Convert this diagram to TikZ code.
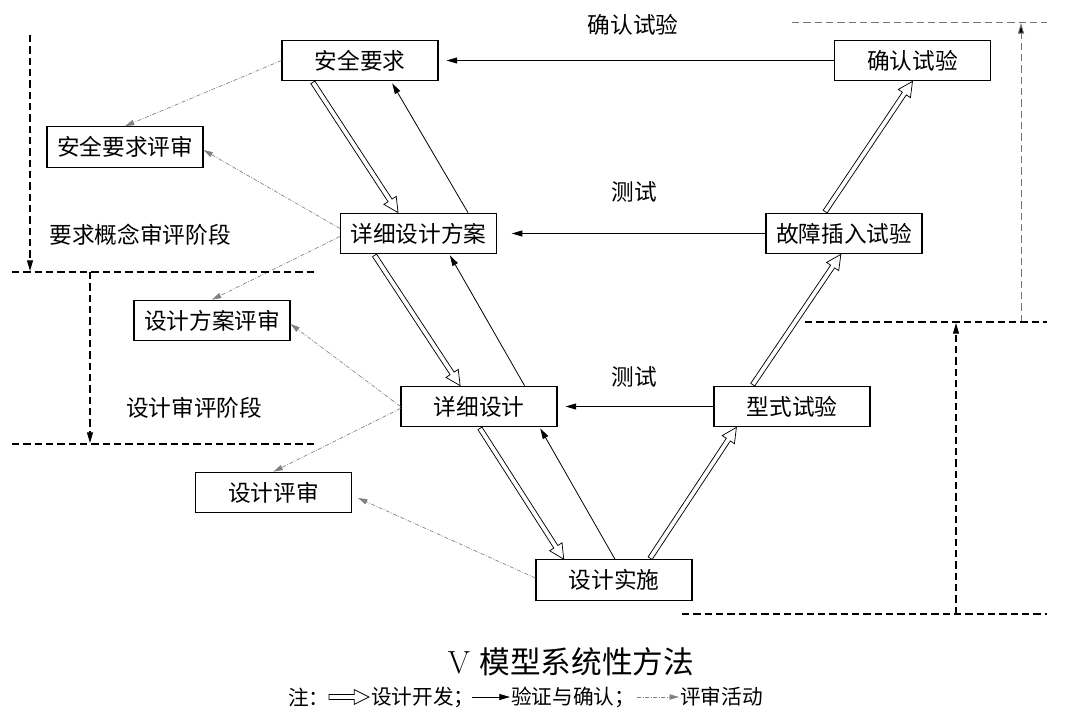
\documentclass[tikz,border=0pt]{standalone}
\usepackage{fontspec}
\newfontfamily\cjk{Noto Sans CJK SC}
\usetikzlibrary{arrows.meta,calc}
\tikzset{
  box/.style={draw, line width=0.8pt, minimum width=117pt, minimum height=30.5pt, inner sep=0pt, font=\cjk\fontsize{17pt}{20pt}\selectfont},
  lbl/.style={inner sep=0pt, font=\cjk\fontsize{17pt}{20pt}\selectfont},
  leg/.style={inner sep=0pt, font=\cjk\fontsize{15.5pt}{18pt}\selectfont},
  ver/.style={line width=0.6pt, -{Triangle[length=8pt,width=4.5pt]}},
  rev/.style={draw=black!50, line width=0.5pt, dash pattern=on 3pt off 1.2pt on 0.6pt off 1.2pt, -{Triangle[length=7pt,width=4pt,fill=black!50]}},
  devline/.style={line width=0.55pt, line join=miter, fill=white},
  phase/.style={line width=0.8pt, dash pattern=on 5.5pt off 3pt},
  phasearr/.style={phase, -{Triangle[length=8pt,width=4.5pt]}},
  phasegray/.style={phase, draw=black!55, line width=0.7pt},
}
\newcommand\devarr[2]{%
  \coordinate (dvB) at ($(#2)!11pt!(#1)$);
  \draw[devline] ($(#1)!1.8pt!90:(#2)$) -- ($(dvB)!1.8pt!90:(#2)$) -- ($(dvB)!5.5pt!90:(#2)$) -- (#2)
     -- ($(dvB)!5.5pt!-90:(#2)$) -- ($(dvB)!1.8pt!-90:(#2)$) -- ($(#1)!1.8pt!-90:(#2)$) -- cycle;}
\begin{document}
\begin{tikzpicture}[x=0.75pt,y=-0.75pt]
\useasboundingbox (0,0) rectangle (1080,714);
% boxes
\node[box] (sr)  at (360,60.5)   {安全要求};
\node[box] (qr)  at (912.5,60.5) {确认试验};
\node[box] (srp) at (125,147)    {安全要求评审};
\node[box] (xfa) at (418.5,233.5){详细设计方案};
\node[box] (gz)  at (844,233.5)  {故障插入试验};
\node[box] (fap) at (212,320.5)  {设计方案评审};
\node[box] (xs)  at (479,406.5)  {详细设计};
\node[box] (xt)  at (792,406.5)  {型式试验};
\node[box] (sp)  at (273.5,492.5){设计评审};
\node[box] (ss)  at (614,580)    {设计实施};
% labels
\node[lbl] (l1) at (633,25)  {确认试验};
\node[lbl] (l2) at (634,192) {测试};
\node[lbl] (l3) at (634,377) {测试};
\node[lbl] (p1) at (140,235) {要求概念审评阶段};
\node[lbl] (p2) at (194,408) {设计审评阶段};
% verification arrows
\draw[ver, shorten >=6pt]  (qr) -- (sr);
\draw[ver, shorten >=11pt] (gz) -- (xfa);
\draw[ver, shorten >=6pt]  (xt) -- (xs);
\draw[ver] ($(xfa.north west)!0.815!(xfa.north east)$) -- ($(sr.south west)!0.705!(sr.south east)+(0,2)$);
\draw[ver] ($(xs.north west)!0.79!(xs.north east)$) -- ($(xfa.south west)!0.70!(xfa.south east)+(0,1)$);
\draw[ver] ($(ss.north west)!0.506!(ss.north east)$) -- ($(xs.south west)!0.89!(xs.south east)+(0,1)$);
% development arrows
\coordinate (d1a) at ($(sr.south west)!0.2!(sr.south east)+(0,1)$);
\coordinate (d1b) at ($(xfa.north west)!0.37!(xfa.north east)$);
\coordinate (d2a) at ($(xfa.south west)!0.22!(xfa.south east)+(0,1)$);
\coordinate (d2b) at ($(xs.north west)!0.38!(xs.north east)$);
\coordinate (d3a) at ($(xs.south west)!0.506!(xs.south east)+(0,1)$);
\coordinate (d3b) at ($(ss.north west)!0.18!(ss.north east)$);
\coordinate (d4a) at ($(ss.north west)!0.73!(ss.north east)+(0,-1)$);
\coordinate (d4b) at ($(xt.south west)!0.146!(xt.south east)$);
\coordinate (d5a) at ($(xt.north west)!0.25!(xt.north east)+(0,-1)$);
\coordinate (d5b) at ($(gz.south west)!0.48!(gz.south east)$);
\coordinate (d6a) at ($(gz.north west)!0.38!(gz.north east)+(0,-1)$);
\coordinate (d6b) at ($(qr.south west)!0.50!(qr.south east)$);
\devarr{d1a}{d1b}
\devarr{d2a}{d2b}
\devarr{d3a}{d3b}
\devarr{d4a}{d4b}
\devarr{d5a}{d5b}
\devarr{d6a}{d6b}
% review arrows
\draw[rev] (sr.west) -- (srp.north);
\draw[rev] ($(xfa.west)+(0,-5)$) -- ($(srp.east)+(0,3)$);
\draw[rev] ($(xfa.west)+(0,3)$) -- (fap.north);
\draw[rev] (xs.west) -- ($(fap.east)+(0,3.5)$);
\draw[rev] ($(xs.west)+(0,2)$) -- (sp.north);
\draw[rev] ($(ss.west)+(0,-2)$) -- ($(sp.east)+(6,5.5)$);
% phase lines left
\coordinate (a1) at (30,35);  \coordinate (a2) at (30,271);
\coordinate (h1a) at (12,272); \coordinate (h1b) at (315,272);
\coordinate (a3) at (90,272); \coordinate (a4) at (90,443);
\coordinate (h2a) at (12,444); \coordinate (h2b) at (315,444);
\draw[phasearr] (a1) -- (a2);
\draw[phase] (h1a) -- (h1b);
\draw[phasearr] (a3) -- (a4);
\draw[phase] (h2a) -- (h2b);
% phase lines right
\coordinate (r1a) at (792,22);  \coordinate (r1b) at (1047,22);
\coordinate (r2a) at (1021,322); \coordinate (r2b) at (1021,23);
\coordinate (r3a) at (805,322); \coordinate (r3b) at (1047,322);
\coordinate (r4a) at (956,614); \coordinate (r4b) at (956,323);
\coordinate (r5a) at (682,614); \coordinate (r5b) at (1047,614);
\draw[phasegray] (r1a) -- (r1b);
\draw[phasegray, -{Triangle[length=8pt,width=4.5pt,fill=black]}] (r2a) -- (r2b);
\draw[phase] (r3a) -- (r3b);
\draw[phasearr] (r4a) -- (r4b);
\draw[phase] (r5a) -- (r5b);
% title and legend
\node[inner sep=0pt, font=\cjk\fontsize{23pt}{26pt}\selectfont] (title) at (571,662) {{\normalfont\fontsize{24pt}{26pt}\selectfont V}\hspace{7pt}模型系统性方法};
\node[leg, anchor=west] (n1) at (288,697) {注：};
\coordinate (g1a) at (329,697); \coordinate (g1b) at (369,697);
\devarr{g1a}{g1b}
\node[leg, anchor=west] (n2) at (371,697) {设计开发；};
\coordinate (g2a) at (472,697); \coordinate (g2b) at (510,697);
\draw[ver] (g2a) -- (g2b);
\node[leg, anchor=west] (n3) at (511,697) {验证与确认；};
\coordinate (g3a) at (637,697); \coordinate (g3b) at (679,697);
\draw[rev] (g3a) -- (g3b);
\node[leg, anchor=west] (n4) at (680,697) {评审活动};
\end{tikzpicture}
\end{document}
